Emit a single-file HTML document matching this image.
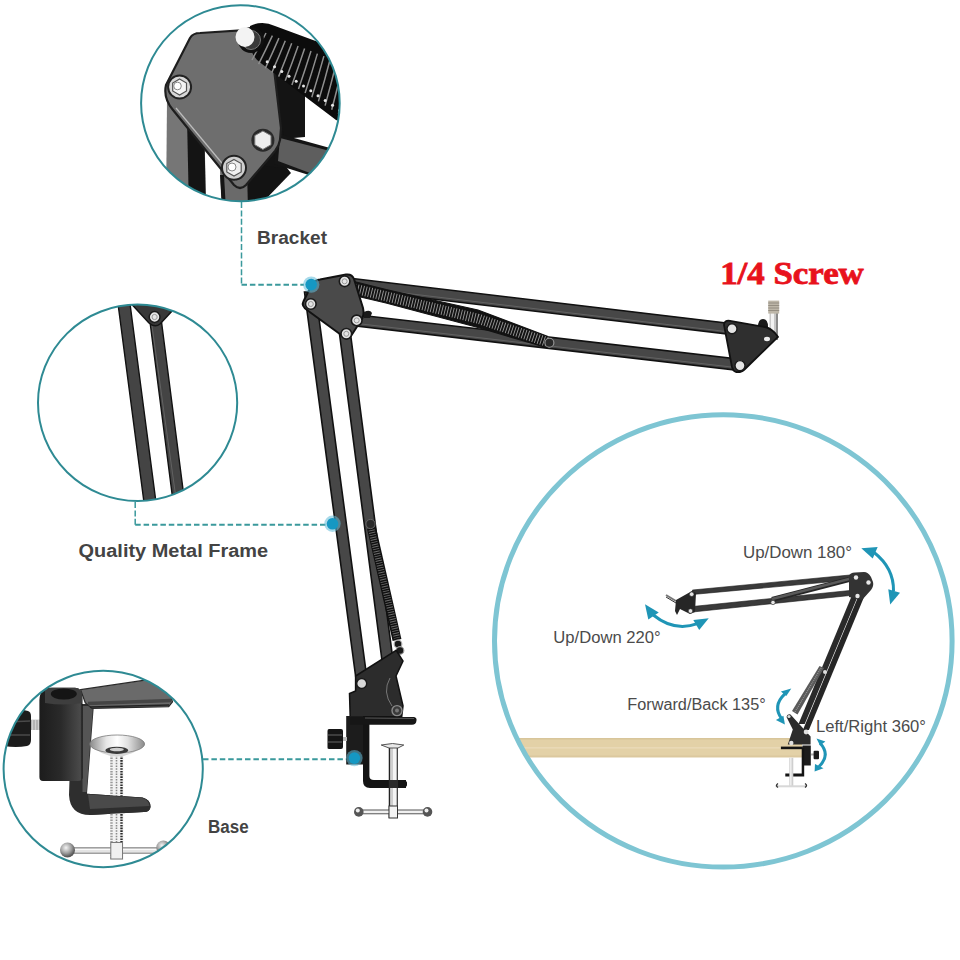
<!DOCTYPE html>
<html><head><meta charset="utf-8">
<style>
html,body{margin:0;padding:0;background:#fff;width:960px;height:960px;overflow:hidden}
svg{display:block}
.b{font-family:"Liberation Sans",sans-serif;font-weight:bold;fill:#434343}
.r{font-family:"Liberation Sans",sans-serif;fill:#4b4b4b}
</style></head><body>
<svg width="960" height="960" viewBox="0 0 960 960">
<defs>
<clipPath id="c1"><ellipse cx="240.4" cy="103.2" rx="99.3" ry="98"/></clipPath>
<clipPath id="c2"><ellipse cx="137.6" cy="402.8" rx="99.6" ry="98.2"/></clipPath>
<clipPath id="c3"><ellipse cx="103.2" cy="769" rx="99.6" ry="98.2"/></clipPath>
<clipPath id="c4"><ellipse cx="723.3" cy="640.9" rx="228.8" ry="226.2"/></clipPath>
</defs>
<rect width="960" height="960" fill="#fff"/>

<!-- ============ CLOSEUP 1 : BRACKET ============ -->
<g id="close1" clip-path="url(#c1)">
<!-- rear bars -->
<polygon points="167,100 204,100 206,210 166,210" fill="#767676"/>
<polygon points="187,118 204,118 206,210 189,210" fill="#141414"/>
<polygon points="244,150 279,158 291,173 263,202 246,210" fill="#131313"/>
<polygon points="220,170 247,170 248,210 222,210" fill="#6a6a6a"/>
<polygon points="220,175 224,175 226,210 222,210" fill="#151515"/>
<!-- vertical bar right of plate -->
<polygon points="272,55 305,62 305,137 270,140" fill="#141414"/>
<polygon points="262,130 284,132 282,168 258,165" fill="#141414"/>
<!-- lower right bar going right -->
<polygon points="276,133 330,148 312,176 274,164" fill="#151515"/>
<polygon points="280,138 330,151 310,173 278,161" fill="#5e5e5e"/>
<!-- top bar -->
<!-- plate -->
<path d="M166,85 L190,38 Q193,33 200,33 L262,29 Q268,29 270,35 L281,128 L280,140 Q279,146 275,151 L246,185 Q240,191 234,185 L173,110 Q163,98 166,85 Z" fill="#6e6e6e" stroke="#1e1e1e" stroke-width="2.2"/>
<path d="M176,108 L236,180" stroke="#bdbdbd" stroke-width="1.2" fill="none"/>
<!-- spring over plate -->
<path d="M250,26 Q262,20 275,26 L340,50 L352,62 L352,126 L336,120 L262,64 Q250,56 250,42 Z" fill="#0c0c0c"/>
<g stroke="#8e8e8e" stroke-width="1.5" fill="none">
<path d="M266.0,33.0 Q259.5,46.0 252.0,60.0"/>
<path d="M272.4,35.6 Q266.0,49.4 258.6,64.1"/>
<path d="M278.9,38.1 Q272.6,52.7 265.3,68.3"/>
<path d="M285.3,40.7 Q279.1,56.1 271.9,72.4"/>
<path d="M291.7,43.3 Q285.6,59.4 278.6,76.6"/>
<path d="M298.1,45.9 Q292.2,62.8 285.2,80.7"/>
<path d="M304.6,48.4 Q298.7,66.1 291.9,84.9"/>
<path d="M311.0,51.0 Q305.2,69.5 298.5,89.0"/>
<path d="M317.4,53.6 Q311.8,72.9 305.1,93.1"/>
<path d="M323.9,56.1 Q318.3,76.2 311.8,97.3"/>
<path d="M330.3,58.7 Q324.9,79.6 318.4,101.4"/>
<path d="M336.7,61.3 Q331.4,82.9 325.1,105.6"/>
<path d="M343.1,63.9 Q337.9,86.3 331.7,109.7"/>
<path d="M349.6,66.4 Q344.5,89.6 338.4,113.9"/>
<path d="M356.0,69.0 Q351.0,93.0 345.0,118.0"/>
</g>
<g fill="#e6e6e6">
<circle cx="267.2" cy="61.8" r="1.5"/>
<circle cx="274.5" cy="66.7" r="1.5"/>
<circle cx="281.8" cy="71.5" r="1.5"/>
<circle cx="289.0" cy="76.3" r="1.5"/>
<circle cx="296.2" cy="81.2" r="1.5"/>
<circle cx="303.5" cy="86.0" r="1.5"/>
<circle cx="310.8" cy="90.8" r="1.5"/>
<circle cx="318.0" cy="95.7" r="1.5"/>
<circle cx="325.2" cy="100.5" r="1.5"/>
<circle cx="332.5" cy="105.3" r="1.5"/>
<circle cx="339.8" cy="110.2" r="1.5"/>
</g>
<!-- top bolt -->
<circle cx="251" cy="40" r="13" fill="#101010"/>
<circle cx="251" cy="40" r="9.5" fill="#3a3a3a" stroke="#777" stroke-width="1"/>
<ellipse cx="245" cy="37" rx="9.5" ry="10" fill="#f3f3f3"/>
<!-- left nut -->
<circle cx="179.6" cy="87" r="11.5" fill="#d8d8d8" stroke="#222" stroke-width="2"/>
<polygon points="179.6,79 186.5,83 186.5,91 179.6,95 172.7,91 172.7,83" fill="#f4f4f4" stroke="#555" stroke-width="1.2"/>
<circle cx="177.5" cy="86" r="3.8" fill="#fff" stroke="#888" stroke-width="1"/>
<!-- right hex bolt -->
<circle cx="262.9" cy="140.2" r="11.5" fill="#2a2a2a"/>
<polygon points="262.9,131 271,135.6 271,144.8 262.9,149.4 254.8,144.8 254.8,135.6" fill="#ededed" stroke="#777" stroke-width="1"/>
<!-- bottom nut -->
<circle cx="234" cy="167.8" r="12" fill="#cfcfcf" stroke="#222" stroke-width="2"/>
<polygon points="234,159.5 241.2,163.6 241.2,172 234,176 226.8,172 226.8,163.6" fill="#efefef" stroke="#555" stroke-width="1.2"/>
<circle cx="232" cy="167" r="4" fill="#fff" stroke="#888" stroke-width="1"/>
</g>

<!-- ============ CLOSEUP 2 : FRAME ============ -->
<g id="close2" clip-path="url(#c2)">
<polygon points="117,296 129,296 157,510 145,510" fill="#444" stroke="#111" stroke-width="1.4"/>
<polygon points="149.5,318 161,318 185,505 173.5,505" fill="#444" stroke="#111" stroke-width="1.4"/>
<line x1="152" y1="326" x2="176.5" y2="502" stroke="#6a6a6a" stroke-width="0.8"/>
<path d="M126,298 L176,302 L172,311 L160,324 Q155,328 149,323 Z" fill="#383838" stroke="#141414" stroke-width="1.5"/>
<circle cx="154.6" cy="317" r="5.4" fill="#e6e6e6" stroke="#1a1a1a" stroke-width="1.5"/>
<circle cx="154.6" cy="317" r="2.6" fill="none" stroke="#9a9a9a" stroke-width="1"/>
</g>

<!-- ============ CLOSEUP 3 : BASE ============ -->
<g id="close3" clip-path="url(#c3)">
<!-- knob -->
<rect x="29" y="719.5" width="15" height="10.5" fill="#d0d0d0"/>
<g stroke="#888" stroke-width="0.8"><line x1="31" y1="720" x2="31" y2="730"/><line x1="34" y1="720" x2="34" y2="730"/><line x1="37" y1="720" x2="37" y2="730"/><line x1="40" y1="720" x2="40" y2="730"/></g>
<path d="M4,712 Q18,708 28,711 Q31,712 31,716 V740 Q31,745 27,746 Q16,748 4,746 Z" fill="#1c1c1c"/>
<line x1="6" y1="722" x2="30" y2="721" stroke="#4a4a4a" stroke-width="1.5"/>
<line x1="6" y1="735" x2="30" y2="735" stroke="#4a4a4a" stroke-width="1.5"/>
<!-- C clamp -->
<path d="M81,704 L94,704 L87,793.8 L142.5,797.5 Q151,800 150.5,807 Q150,812 144,812 L90,815 Q70,815 69,795 L72,704 Z" fill="#2e2e2e"/>
<path d="M82.5,706 L93,706 L86.5,792 L82.5,792 Z" fill="#555"/>
<!-- top plate -->
<path d="M80.6,689.7 L150,679.4 L166,681 L172.5,701.9 L168.7,706.6 L92,708.4 L85.3,702.8 Z" fill="#6a6a6a" stroke="#2a2a2a" stroke-width="1.2"/>
<path d="M88,703.5 L171,700.5" stroke="#454545" stroke-width="3.5"/>
<path d="M90,707 L169,705" stroke="#222" stroke-width="1.5"/>
<!-- post -->
<linearGradient id="pg" x1="0" x2="1" y1="0" y2="0"><stop offset="0" stop-color="#1c1c1c"/><stop offset="0.5" stop-color="#2a2a2a"/><stop offset="0.95" stop-color="#4a4a4a"/><stop offset="1" stop-color="#111"/></linearGradient>
<path d="M39.4,700 Q40,688 50,687.8 L75,687.8 Q83,688 82.5,700 L82.5,778 Q82,781 78,781 L43,781 Q39.4,781 39.4,777 Z" fill="url(#pg)"/>
<path d="M45,691 Q46,687.8 52,687.8 L75,687.8 Q82,688 82,695 L82,703 Q63,706 45,703 Z" fill="#3e3e3e"/>
<ellipse cx="63.8" cy="694" rx="13" ry="5.5" fill="#151515"/>
<!-- screw rod -->
<rect x="110" y="752" width="13.5" height="108" fill="#f2f2f2"/>
<line x1="111.5" y1="752" x2="111.5" y2="860" stroke="#9a9a9a" stroke-width="2.4" stroke-dasharray="1.5 1.2"/>
<line x1="116.5" y1="752" x2="116.5" y2="860" stroke="#8a8a8a" stroke-width="1.6" stroke-dasharray="1.5 1.2"/>
<line x1="121.5" y1="752" x2="121.5" y2="860" stroke="#2a2a2a" stroke-width="2.4" stroke-dasharray="1.6 1.1"/>
<rect x="90" y="794" width="55" height="20" fill="#262626" opacity="0"/>
<path d="M87,793.8 L142.5,797.5 Q151,800 150.5,807 Q150,812 144,812 L90,815 Z" fill="#2e2e2e"/>
<path d="M88,794.5 L142,798 Q149,800 149.5,806 L90,809 Z" fill="#4a4a4a"/>
<!-- cup -->
<linearGradient id="cg" x1="0" x2="1" y1="0" y2="0"><stop offset="0" stop-color="#8a8a8a"/><stop offset="0.3" stop-color="#e6e6e6"/><stop offset="0.5" stop-color="#ffffff"/><stop offset="0.7" stop-color="#e0e0e0"/><stop offset="1" stop-color="#8a8a8a"/></linearGradient>
<path d="M90,744 Q100,756 117,756.5 Q134,756 144.5,744 Z" fill="#d8d8d8"/>
<ellipse cx="117.2" cy="744" rx="27.4" ry="9" fill="url(#cg)" stroke="#7a7a7a" stroke-width="0.8"/>
<ellipse cx="116.8" cy="750.3" rx="11.5" ry="3.6" fill="#3a3a3a"/>
<ellipse cx="116.8" cy="749.5" rx="7" ry="1.8" fill="#cfcfcf"/>
<!-- T bar -->
<radialGradient id="bg1" cx="0.4" cy="0.35" r="0.6"><stop offset="0" stop-color="#f4f4f4"/><stop offset="0.6" stop-color="#a0a0a0"/><stop offset="1" stop-color="#5a5a5a"/></radialGradient>
<rect x="66" y="847.8" width="94" height="5.4" fill="#e4e4e4" stroke="#7a7a7a" stroke-width="1"/>
<line x1="66" y1="849.5" x2="160" y2="849.5" stroke="#fafafa" stroke-width="1"/>
<rect x="110.8" y="842.5" width="11.7" height="16.5" fill="#f0f0f0" stroke="#7a7a7a" stroke-width="1"/>
<circle cx="67.5" cy="850" r="7.5" fill="url(#bg1)"/>
<circle cx="163.3" cy="847.5" r="7" fill="url(#bg1)"/>
</g>

<!-- ============ BIG CIRCLE ============ -->
<g id="big" clip-path="url(#c4)">
<!-- table -->
<rect x="480" y="738" width="322" height="19.3" fill="#e3d1a7"/>
<rect x="480" y="738" width="322" height="1.5" fill="#d8c59a"/>
<rect x="480" y="747" width="322" height="1.6" fill="#e9d9b6"/>
<rect x="480" y="755.5" width="322" height="1.8" fill="#dbc89e"/>
</g>
<g id="smallarm">
<!-- small vertical bars -->
<polygon points="862.6,586 868.6,586 808.9,730 802.9,730" fill="#262626"/>
<polygon points="852.1,595 858.3,595 804.7,724 798.5,724" fill="#2a2a2a"/>
<polygon points="819.5,666 824,668 797.5,714.5 792,711" fill="#5a5a5a"/>
<line x1="821" y1="668" x2="795" y2="712" stroke="#9a9a9a" stroke-width="1.4" stroke-dasharray="0.8 1.2"/>
<circle cx="825" cy="672" r="2" fill="#ddd"/>
<!-- small horizontal bars -->
<polygon points="692.5,590 850,575 850,580 692.5,594.5" fill="#3a3a3a" stroke="#1a1a1a" stroke-width="0.6"/>
<polygon points="692.5,606.5 850,590.5 850,595.5 692.5,612" fill="#3a3a3a" stroke="#1a1a1a" stroke-width="0.6"/>
<line x1="772" y1="599.5" x2="849" y2="579.5" stroke="#262626" stroke-width="5"/>
<line x1="772" y1="599" x2="849" y2="579" stroke="#5a5a5a" stroke-width="2.4"/>
<circle cx="773" cy="602.5" r="2.2" fill="#e6e6e6" stroke="#222" stroke-width="0.6"/>
<!-- small top plate -->
<path d="M849,576 Q850,572.5 855,572.5 L864,572 Q868,572 871,577 L873,582 Q874,586 871,590 L862,600 L849,597 Z" fill="#333"/>
<g fill="#e8e8e8"><circle cx="856" cy="577.5" r="2.2"/><circle cx="868.5" cy="582.5" r="2.2"/><circle cx="857.5" cy="596" r="2.2"/></g>
<!-- small end plate -->
<line x1="666" y1="595" x2="676" y2="601" stroke="#777" stroke-width="2"/>
<line x1="666" y1="597" x2="676" y2="603" stroke="#333" stroke-width="1"/>
<path d="M676,600 L692,591 L696,593 L695,612 L690,614 L680,609 L677,615 L675,611 Z" fill="#262626"/>
<g fill="#e6e6e6" stroke="#222" stroke-width="0.6"><circle cx="691.7" cy="594.2" r="2.3"/><circle cx="690.5" cy="611" r="2.3"/></g>
<!-- small base -->
<path d="M786.5,717 Q787,713.5 790.5,714.5 L801,726 L810.6,736.5 L810.6,744.4 L787.8,744.4 L792.8,729.6 Z" fill="#2c2c2c"/>
<circle cx="789" cy="716.5" r="1.6" fill="#ddd"/>
<g fill="#e0e0e0"><circle cx="806.1" cy="732" r="2.4"/><circle cx="791.3" cy="743" r="2.2"/></g>
<rect x="780.9" y="746.6" width="22" height="2.6" fill="#141414"/>
<rect x="802.5" y="745.5" width="8.3" height="20" fill="#1c1c1c"/>
<path d="M801.7,748 H804.2 V776.6 H785.3 V773.6 H801.7 Z" fill="#141414"/>
<rect x="789.3" y="757.8" width="4" height="29" fill="#cfcfcf"/>
<rect x="790.2" y="757.8" width="1.3" height="29" fill="#f4f4f4"/>
<rect x="811" y="753.5" width="3" height="2" fill="#aaa"/>
<rect x="813.6" y="750.8" width="5.4" height="8.5" rx="1" fill="#1a1a1a"/>
<rect x="775.5" y="785.3" width="31" height="2" fill="#d8d8d8"/>
<path d="M778,783.5 q-3,2 0,4" fill="none" stroke="#333" stroke-width="1.4"/>
<path d="M805,783.5 q3,2 0,4" fill="none" stroke="#333" stroke-width="1.4"/>
<!-- arrows -->
<g fill="none" stroke="#1f95b6" stroke-width="3">
<path d="M873.8,552.2 Q894,568 893.5,591"/>
<path d="M653.3,615 Q674,632 697.5,623.7"/>
<path d="M784.9,693.9 Q772,706 781.9,719.2"/>
<path d="M820,743 Q831,755 819,766.5"/>
</g>
<g fill="#1f95b6">
<polygon points="861.3,548.3 877.7,547.1 872.7,558.4"/>
<polygon points="890.2,604.5 888.3,589.3 900,592.8"/>
<polygon points="645,604.2 648.3,619.6 658.75,612.5"/>
<polygon points="708.75,618.3 693.3,620 699.2,630"/>
<polygon points="791.3,688.5 780.9,691.4 786.3,695.9"/>
<polygon points="784.9,724.6 775.9,720.1 783.4,715.7"/>
<polygon points="816.5,738.5 825.4,741.4 820,745.4"/>
<polygon points="814.6,771.6 815,764 823.5,768.2"/>
</g>
</g>

<!-- circles -->
<g fill="none" stroke="#2e8a93" stroke-width="2">
<ellipse cx="240.4" cy="103.2" rx="99.3" ry="98"/>
<ellipse cx="137.6" cy="402.8" rx="99.6" ry="98.2"/>
<ellipse cx="103.2" cy="769" rx="99.6" ry="98.2"/>
</g>
<ellipse cx="723.3" cy="640.9" rx="228.8" ry="226.2" fill="none" stroke="#7ec5d3" stroke-width="5"/>

<!-- dashed callouts -->
<g fill="none" stroke="#3a999c" stroke-width="1.5" stroke-dasharray="6 2.4">
<path d="M241.5 202 V284.8"/>
<path d="M135.2 502 V524.8"/>
</g>
<g fill="none" stroke="#3a999c" stroke-width="1.9" stroke-dasharray="5.5 2.9">
<path d="M241.5 284.8 H304"/>
<path d="M135.2 524.8 H326"/>
<path d="M203 759.2 H347"/>
</g>

<!-- ============ MAIN ARM ============ -->
<g id="arm">
<!-- vertical bars -->
<polygon points="304.5,292 315.5,292 367.4,682 356.4,682" fill="#474747" stroke="#111" stroke-width="1.6"/>
<polygon points="339,330 350,330 393.2,662 382.2,662" fill="#474747" stroke="#111" stroke-width="1.6"/>
<!-- lower vertical spring -->
<line x1="371.5" y1="528" x2="397" y2="640" stroke="#101010" stroke-width="9"/>
<line x1="371.5" y1="530" x2="397" y2="638" stroke="#6a6a6a" stroke-width="6.5" stroke-dasharray="0.9 1.5"/>
<circle cx="370.5" cy="524" r="4.6" fill="#2a2a2a" stroke="#666" stroke-width="1"/>
<circle cx="398" cy="644" r="3.8" fill="#1a1a1a" stroke="#aaa" stroke-width="1.2"/>
<circle cx="400" cy="650.5" r="3.8" fill="#1a1a1a" stroke="#999" stroke-width="1.2"/>
<!-- horizontal bars -->
<polygon points="340,277 732,323.6 732,334.6 340,288" fill="#474747" stroke="#111" stroke-width="1.6"/>
<line x1="345" y1="286" x2="730" y2="332" stroke="#6a6a6a" stroke-width="0.8"/>
<polygon points="352,314.2 742,359.5 742,370.8 352,325.5" fill="#474747" stroke="#111" stroke-width="1.6"/>
<line x1="357" y1="323.5" x2="740" y2="368" stroke="#6a6a6a" stroke-width="0.8"/>
<!-- horizontal spring -->
<path d="M352,281 L386,289.5 L478,310 L548,336.5 L548,348 L478,327.5 L386,303 L352,295 Z" fill="#121212"/>
<path d="M352,288 L386,296.3 L478,318.7 L548,342.2" fill="none" stroke="#9a9a9a" stroke-width="10" stroke-dasharray="0.9 1.9"/>
<path d="M352,281 L386,289.5 L478,310 L548,336.5" fill="none" stroke="#121212" stroke-width="1.2"/>
<path d="M352,295 L386,303 L478,327.5 L548,348" fill="none" stroke="#121212" stroke-width="1.2"/>
<circle cx="549.4" cy="342.8" r="4.5" fill="#2a2a2a" stroke="#9a9a9a" stroke-width="1.1"/>
<!-- upper joint plate -->
<path d="M303.3,301.7 L312,284 Q315,280 320,279.5 L346,274.6 Q352,273.8 354,279 L363,308 Q365,316 360,322 L351,336 Q348,340 344,337 L308,310.8 Q301,306 303.3,301.7 Z" fill="#4a4a4a" stroke="#111" stroke-width="2"/>
<path d="M364,312 q6,-3 8,1 l-2,5 l-6,0z" fill="#1a1a1a"/>
<g fill="#e4e4e4" stroke="#1a1a1a" stroke-width="1.6">
<circle cx="344.6" cy="281.3" r="5.3"/>
<circle cx="310.8" cy="304" r="5.3"/>
<circle cx="356.7" cy="320.4" r="5.3"/>
<circle cx="346.3" cy="333.8" r="5.3"/>
</g>
<g fill="none" stroke="#999" stroke-width="1">
<circle cx="344.6" cy="281.3" r="2.5"/>
<circle cx="310.8" cy="304" r="2.5"/>
<circle cx="356.7" cy="320.4" r="2.5"/>
<circle cx="346.3" cy="333.8" r="2.5"/>
</g>
<!-- end plate -->
<path d="M758,327 q0,-8 5,-8 q5,0 5,8z" fill="#1a1a1a"/>
<rect x="769.5" y="312" width="8.5" height="28" fill="#c8c8c8"/>
<rect x="771" y="312" width="3" height="28" fill="#f2f2f2"/>
<rect x="776" y="312" width="2" height="28" fill="#8a8a8a"/>
<rect x="768.2" y="300.6" width="11" height="13" fill="#bdb6a8"/>
<g stroke="#8a8478" stroke-width="0.8">
<line x1="768.2" y1="303" x2="779.2" y2="303"/><line x1="768.2" y1="305.5" x2="779.2" y2="305.5"/><line x1="768.2" y1="308" x2="779.2" y2="308"/><line x1="768.2" y1="310.5" x2="779.2" y2="310.5"/>
</g>
<path d="M724,325 Q724,320 730,320.8 L765,327 Q770,328 775,333 L778,337 L745,369 Q741,373 736,372 Q733,371 732,367 Z" fill="#2f2f2f" stroke="#111" stroke-width="1.8"/>
<ellipse cx="767" cy="339" rx="3" ry="2.2" fill="#eee"/>
<g fill="#e4e4e4" stroke="#1a1a1a" stroke-width="1.4">
<circle cx="732" cy="328.8" r="5"/>
<circle cx="740" cy="365.6" r="5"/>
</g>
<!-- base plate -->
<path d="M355.6,676 L396.2,650.3 L403,661 L396,676 L403,705.8 L401.7,716.7 L350.2,716.7 L349.5,693.6 L355.6,691 Z" fill="#2c2c2c" stroke="#111" stroke-width="1.5"/>
<path d="M390,678 q-8,14 2,28" fill="none" stroke="#777" stroke-width="1"/>
<circle cx="361.7" cy="683.5" r="5" fill="#d8d8d8" stroke="#1a1a1a" stroke-width="1.4"/>
<circle cx="397" cy="710.6" r="5" fill="#3a3a3a" stroke="#8a8a8a" stroke-width="1.4"/>
<circle cx="397" cy="710.6" r="2" fill="#777"/>
<!-- clamp -->
<rect x="346.2" y="716" width="17" height="48.5" fill="#1c1c1c"/>
<path d="M363,717 H369.4 V776 Q369.4,780 374,780 H403 Q407.5,780.5 407,784.5 Q406.5,788 402,788 H370 Q363,788 363,781 Z" fill="#141414"/>
<path d="M350,717 H414 Q417,717.5 416.5,720.5 Q416,724.8 412,724.8 H350 Z" fill="#161616"/>
<line x1="365" y1="718" x2="414" y2="718.5" stroke="#666" stroke-width="0.8"/>
<!-- knob -->
<rect x="341" y="737" width="6" height="4" fill="#bbb"/>
<path d="M329,729 H341 Q343,729 343,731 V747 Q343,749 341,749 H329 Q327,749 327.5,747 V731 Q327.5,729 329,729 Z" fill="#151515"/>
<line x1="328" y1="735" x2="342" y2="735" stroke="#666" stroke-width="1"/>
<line x1="328" y1="742" x2="342" y2="742" stroke="#666" stroke-width="1"/>
<!-- screw -->
<rect x="388.8" y="746" width="9.2" height="72" fill="#f4f4f4"/>
<line x1="389.5" y1="746" x2="389.5" y2="818" stroke="#222" stroke-width="1.5"/>
<line x1="397.3" y1="746" x2="397.3" y2="818" stroke="#333" stroke-width="1.2"/>
<line x1="392" y1="746" x2="392" y2="818" stroke="#999" stroke-width="0.8"/>
<path d="M381.2,745 Q392.5,742 403.8,745 L398,748 H389 Z" fill="#e8e8e8" stroke="#444" stroke-width="0.9"/>
<rect x="382" y="780" width="24" height="8" fill="#141414"/>
<path d="M382,780 H403 Q407.5,780.5 407,784.5 Q406.5,788 402,788 H382 Z" fill="#141414"/>
<rect x="388.8" y="780" width="9.2" height="8" fill="#2a2a2a"/>
<rect x="358" y="810" width="70" height="3.8" fill="#f0f0f0" stroke="#444" stroke-width="0.9"/>
<circle cx="358.8" cy="811.9" r="4.8" fill="#555"/><circle cx="357.8" cy="810.6" r="2" fill="#eee"/>
<circle cx="427.5" cy="811.9" r="4.8" fill="#555"/><circle cx="426.5" cy="810.6" r="2" fill="#eee"/>
<rect x="389" y="806" width="8.5" height="12" fill="#f4f4f4" stroke="#333" stroke-width="1"/>
</g>

<!-- dots -->
<g>
<circle cx="311.2" cy="284.6" r="8.2" fill="#62bcd8" opacity="0.55"/>
<circle cx="311.2" cy="284.6" r="5.8" fill="#1598c3"/>
<circle cx="332.5" cy="523.8" r="8.2" fill="#62bcd8" opacity="0.55"/>
<circle cx="332.5" cy="523.8" r="5.8" fill="#1598c3"/>
<circle cx="354.4" cy="758.1" r="8.2" fill="#62bcd8" opacity="0.55"/>
<circle cx="354.4" cy="758.1" r="5.8" fill="#1598c3"/>
</g>

<!-- labels -->
<text class="b" x="257" y="243.6" font-size="18" textLength="70" lengthAdjust="spacingAndGlyphs">Bracket</text>
<text class="b" x="78.6" y="556.8" font-size="18" textLength="189.5" lengthAdjust="spacingAndGlyphs">Quality Metal Frame</text>
<text class="b" x="208" y="832.8" font-size="18" textLength="40.6" lengthAdjust="spacingAndGlyphs">Base</text>
<text x="720.2" y="283.8" font-family="Liberation Serif" font-weight="bold" font-size="31" fill="#e8121c" stroke="#e8121c" stroke-width="0.8" textLength="143.6" lengthAdjust="spacingAndGlyphs">1/4 Screw</text>
<text class="r" x="743" y="558.3" font-size="16" textLength="109" lengthAdjust="spacingAndGlyphs">Up/Down 180°</text>
<text class="r" x="553.3" y="643.3" font-size="16" textLength="107.4" lengthAdjust="spacingAndGlyphs">Up/Down 220°</text>
<text class="r" x="627.3" y="710" font-size="16" textLength="138.4" lengthAdjust="spacingAndGlyphs">Forward/Back 135°</text>
<text class="r" x="816" y="732.3" font-size="16" textLength="110" lengthAdjust="spacingAndGlyphs">Left/Right 360°</text>
</svg>
</body></html>
